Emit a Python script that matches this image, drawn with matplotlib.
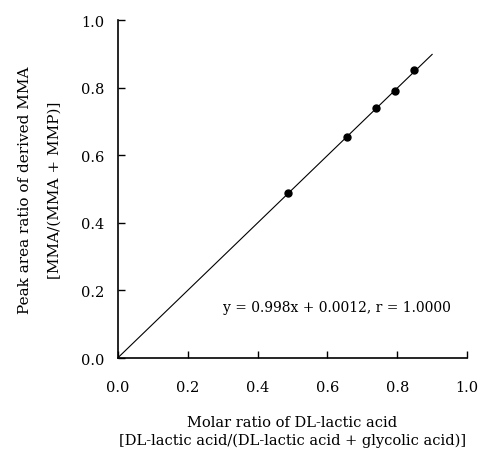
import matplotlib
matplotlib.use("Agg")
import matplotlib.pyplot as plt
import numpy as np

# measured points
molar_ratio = [0.488, 0.655, 0.739, 0.793, 0.849]
area_ratio = [0.488, 0.655, 0.741, 0.791, 0.852]

# regression line
slope = 0.998
intercept = 0.0012
fit_x = [0.0, 0.9]
eq_text = "y = 0.998x + 0.0012, r = 1.0000"

ticks = [0.0, 0.2, 0.4, 0.6, 0.8, 1.0]

plt.rcParams['font.family'] = ['DejaVu Serif']
plt.rcParams['font.size'] = 11

fig = plt.figure(figsize=(4.8, 4.56), dpi=100)
ax = fig.add_axes([0.246, 0.2127, 0.727, 0.7403])

fx = np.array(fit_x)
ax.plot(fx, slope * fx + intercept, color='black', lw=0.8)
ax.plot(molar_ratio, area_ratio, 'o', color='black', ms=5)

ax.text(0.30, 0.152, eq_text, fontsize=10, ha='left', va='center')

ax.set_xlim(0, 1.0)
ax.set_ylim(0, 1.0)
ax.set_xticks(ticks)
ax.set_yticks(ticks)
ax.set_xticklabels([f"{t:.1f}" for t in ticks])
ax.set_yticklabels([f"{t:.1f}" for t in ticks])
ax.tick_params(axis='both', direction='in', length=5, width=1, labelsize=10.5)
ax.tick_params(axis='y', pad=10)
ax.tick_params(axis='x', pad=16)

for s in ['top', 'right']:
    ax.spines[s].set_visible(False)
for s in ['left', 'bottom']:
    ax.spines[s].set_linewidth(1.2)

ax.set_xlabel("Molar ratio of DL-lactic acid\n[DL-lactic acid/(DL-lactic acid + glycolic acid)]",
              labelpad=15, linespacing=1.3, fontsize=10.5)
ax.set_ylabel("Peak area ratio of derived MMA\n[MMA/(MMA + MMP)]",
              labelpad=14, linespacing=2.4)

fig.savefig("out.png", dpi=100)
